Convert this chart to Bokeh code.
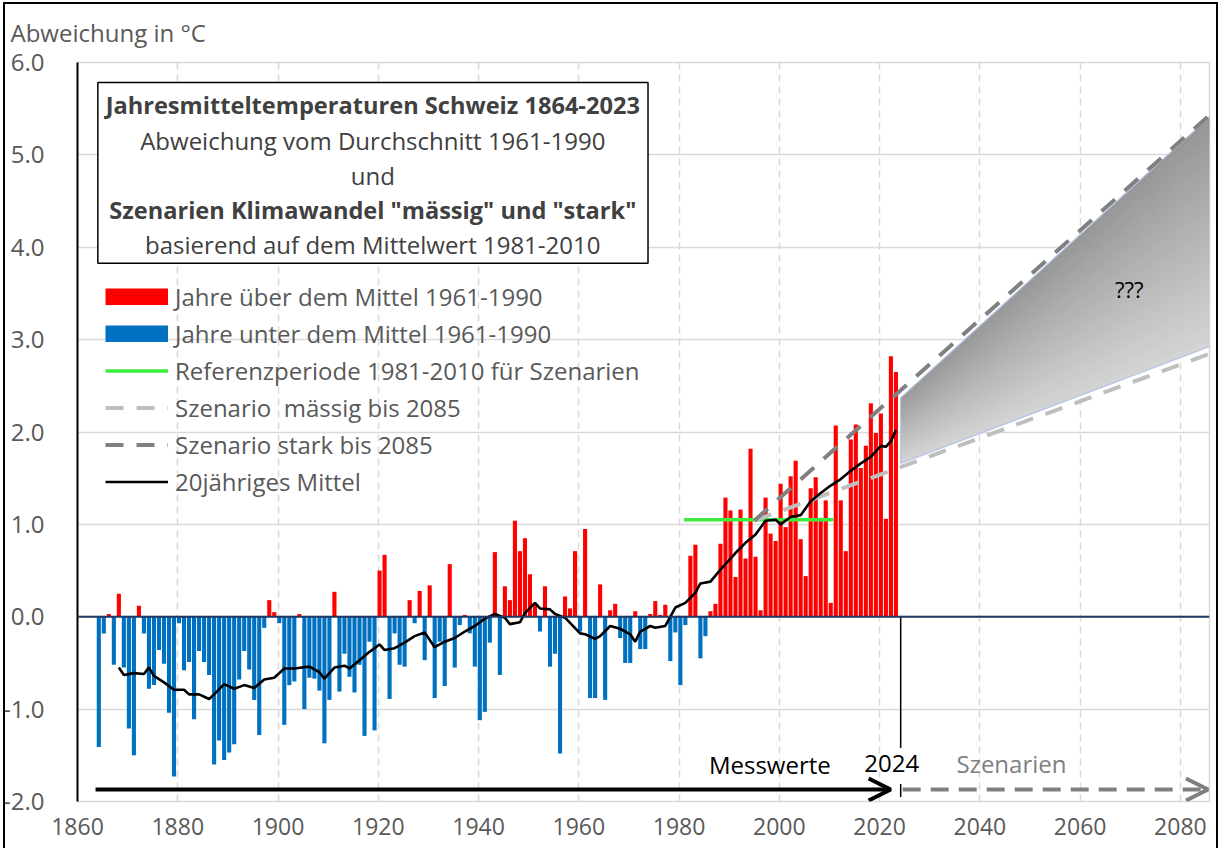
from bokeh.plotting import figure
from bokeh.models import (Range1d, FixedTicker, NumeralTickFormatter, Span, Label,
                          BoxAnnotation, Arrow, OpenHead, Legend, LegendItem, ColumnDataSource,
                          InlineStyleSheet)
from bokeh.embed import file_html
from bokeh.resources import INLINE

FONT = "Open Sans"
TXT = "#595959"
NAN = float("nan")

# ---------------- data ----------------
years = list(range(1864, 2024))
anomaly = [
    -1.41, -0.18, 0.03, -0.52, 0.25, -0.55, -1.21, -1.50, 0.12, -0.18,
    -0.78, -0.74, -0.36, -0.51, -1.04, -1.73, -0.07, -0.58, -0.49, -1.11,
    -0.37, -0.49, -0.63, -1.60, -1.34, -1.55, -1.47, -1.38, -0.68, -0.37,
    -0.57, -0.90, -1.28, -0.12, 0.18, 0.05, -0.07, -1.17, -0.74, -0.70,
    0.03, -1.00, -0.66, -0.67, -0.80, -1.37, -0.90, 0.27, -0.81, -0.40,
    -0.65, -0.82, -0.52, -1.29, -0.27, -1.23, 0.50, 0.67, -0.89, -0.18,
    -0.52, -0.54, 0.18, -0.07, 0.28, -0.47, 0.34, -0.88, -0.27, -0.75,
    0.57, -0.55, -0.09, 0.02, -0.18, -0.54, -1.12, -1.03, -0.28, 0.70,
    -0.63, 0.33, 0.18, 1.04, 0.71, 0.85, 0.46, 0.15, -0.16, 0.33,
    -0.54, -0.40, -1.48, 0.22, 0.09, 0.71, -0.16, 0.95, -0.88, -0.88,
    0.35, -0.90, 0.07, 0.14, -0.23, -0.50, -0.50, 0.06, -0.35, -0.35,
    0.03, 0.17, 0.02, 0.13, -0.48, -0.17, -0.74, -0.09, 0.66, 0.78,
    -0.45, -0.21, 0.06, 0.14, 0.79, 1.29, 1.15, 0.43, 1.16, 0.63,
    1.82, 0.65, 0.07, 1.29, 0.90, 0.82, 1.44, 0.97, 1.52, 1.69,
    0.84, 0.44, 1.39, 1.51, 1.07, 1.26, 0.15, 2.07, 1.26, 0.71,
    1.92, 2.08, 1.61, 1.85, 2.31, 1.99, 2.20, 1.06, 2.82, 2.65,
]

mean_years = [1868, 1869, 1871, 1873, 1874, 1875, 1877, 1879, 1881, 1882, 1884, 1886,
              1887, 1889, 1891, 1893, 1895, 1897, 1899, 1901, 1903, 1906, 1908, 1909,
              1911, 1913, 1914, 1916, 1918, 1920, 1921, 1923, 1925, 1927, 1929, 1931,
              1933, 1935, 1937, 1939, 1941, 1943, 1945, 1946, 1948, 1949, 1951, 1952,
              1954, 1955, 1957, 1960, 1961, 1963, 1964, 1966, 1968, 1970, 1971, 1972,
              1974, 1975, 1977, 1979, 1981, 1983, 1984, 1986, 1988, 1991, 1993, 1995,
              1997, 1999, 2000, 2002, 2004, 2006, 2008, 2010, 2012, 2014, 2016, 2018,
              2020, 2021, 2022, 2023]
mean_values = [-0.55, -0.63, -0.61, -0.62, -0.55, -0.64, -0.71, -0.79, -0.79, -0.84, -0.84, -0.89,
               -0.84, -0.73, -0.78, -0.74, -0.77, -0.68, -0.66, -0.56, -0.56, -0.54, -0.60, -0.67,
               -0.55, -0.53, -0.56, -0.47, -0.38, -0.30, -0.36, -0.34, -0.28, -0.21, -0.17, -0.33,
               -0.27, -0.23, -0.16, -0.10, -0.02, 0.03, -0.01, -0.08, -0.06, 0.04, 0.15, 0.09,
               0.08, 0.03, -0.01, -0.18, -0.19, -0.24, -0.21, -0.10, -0.13, -0.19, -0.27, -0.16,
               -0.10, -0.12, -0.10, 0.10, 0.15, 0.26, 0.36, 0.38, 0.51, 0.69, 0.80, 0.89,
               1.04, 1.05, 1.00, 1.08, 1.10, 1.25, 1.34, 1.42, 1.49, 1.58, 1.66, 1.73,
               1.85, 1.84, 1.90, 2.02]

ref_period = [1981, 2010]
ref_level = 1.05

scen_years = [1995, 2086]
maessig_values = [1.04, 2.85]
stark_values = [1.04, 5.44]

band_years = [2024.2, 2086]
band_top = [2.37, 5.42]
band_bottom = [1.66, 2.93]

x_ticks = list(range(1860, 2081, 20))
y_ticks = [-2, -1, 0, 1, 2, 3, 4, 5, 6]

title_lines = ["Jahresmitteltemperaturen Schweiz 1864-2023",
               "Abweichung vom Durchschnitt 1961-1990",
               "und",
               "Szenarien Klimawandel \"mässig\" und \"stark\"",
               "basierend auf dem Mittelwert 1981-2010"]
title_bold = [True, False, False, True, False]

legend_labels = ["Jahre über dem Mittel 1961-1990",
                 "Jahre unter dem Mittel 1961-1990",
                 "Referenzperiode 1981-2010 für Szenarien",
                 "Szenario  mässig bis 2085",
                 "Szenario stark bis 2085",
                 "20jähriges Mittel"]

# ---------------- figure ----------------
p = figure(width=1218, height=845, x_range=Range1d(1860, 2085.8), y_range=Range1d(-2, 6),
           output_backend="svg", toolbar_location=None,
           min_border_left=76, min_border_right=9, min_border_top=61, min_border_bottom=44)
p.background_fill_color = "white"
p.border_fill_color = "white"
p.outline_line_color = "#d9d9d9"
p.outline_line_width = 1.5
p.stylesheets = [InlineStyleSheet(css=(
    ":host { position: relative; }"
    ":host::after { content: ''; position: absolute; left: 3px; top: 2px; right: 0px; bottom: -30px;"
    " border: 2px solid black; pointer-events: none; z-index: 100; }"))]

p.title.text = "Abweichung in °C"
p.title.align = "left"
p.title.offset = -67
p.title.text_font = FONT
p.title.text_font_size = "24px"
p.title.text_font_style = "normal"
p.title.text_color = TXT
p.title.standoff = 27

p.xgrid.ticker = FixedTicker(ticks=x_ticks)
p.xgrid.grid_line_color = "#d9d9d9"
p.xgrid.grid_line_width = 1.5
p.xgrid.grid_line_dash = "7 5"
p.ygrid.ticker = FixedTicker(ticks=y_ticks)
p.ygrid.grid_line_color = "#d9d9d9"
p.ygrid.grid_line_width = 1.5

xa = p.xaxis[0]
xa.ticker = FixedTicker(ticks=x_ticks)
xa.axis_line_color = None
xa.major_tick_line_color = None
xa.minor_tick_line_color = None
xa.major_label_text_font = FONT
xa.major_label_text_font_size = "23px"
xa.major_label_text_color = TXT
xa.major_label_standoff = 10

ya = p.yaxis[0]
ya.ticker = FixedTicker(ticks=y_ticks)
ya.formatter = NumeralTickFormatter(format="0.0")
ya.axis_line_color = "black"
ya.axis_line_width = 2
ya.major_tick_line_color = None
ya.minor_tick_line_color = None
ya.major_label_text_font = FONT
ya.major_label_text_font_size = "24px"
ya.major_label_text_color = TXT
ya.major_label_standoff = 27

# bars
bar_x = [y + 0.25 for y in years]
pos_src = ColumnDataSource(dict(x=[x for x, v in zip(bar_x, anomaly) if v >= 0],
                                top=[v for v in anomaly if v >= 0]))
neg_src = ColumnDataSource(dict(x=[x for x, v in zip(bar_x, anomaly) if v < 0],
                                top=[v for v in anomaly if v < 0]))
r_red = p.vbar(x="x", top="top", bottom=0, width=0.82, source=pos_src,
               fill_color="#FF0000", line_color=None)
r_blue = p.vbar(x="x", top="top", bottom=0, width=0.82, source=neg_src,
                fill_color="#0070C0", line_color=None)
# legend swatches for the bar series (full-size blocks like the original legend)
sw_red = p.line(x=[NAN, NAN], y=[NAN, NAN], line_color="#FF0000", line_width=17)
sw_blue = p.line(x=[NAN, NAN], y=[NAN, NAN], line_color="#0070C0", line_width=17)

# gradient scenario band
n_bands = 36
dark = (150, 150, 150)
light = (212, 212, 212)
bxs, bys, bcols = [], [], []
for i in range(n_bands):
    t0, t1 = i / n_bands, (i + 1) / n_bands
    e = lambda t, j: band_top[j] + (band_bottom[j] - band_top[j]) * t
    bxs.append([band_years[0], band_years[1], band_years[1], band_years[0]])
    bys.append([e(t0, 0), e(t0, 1), e(t1, 1), e(t1, 0)])
    tm = (t0 + t1) / 2
    c = tuple(int(round(dark[k] + (light[k] - dark[k]) * tm)) for k in range(3))
    bcols.append("#%02x%02x%02x" % c)
p.patches(bxs, bys, fill_color=bcols, line_color=bcols, line_width=0.8)
p.patch([band_years[0], band_years[1], band_years[1], band_years[0]],
        [band_top[0], band_top[1], band_bottom[1], band_bottom[0]],
        fill_color=None, line_color="#b4c7e7", line_width=1.2)

# reference period line
r_green = p.line([ref_period[0], ref_period[1] + 0.75], [ref_level, ref_level],
                 line_color="#3CEB3C", line_width=3.5)
# scenarios
r_maessig = p.line(scen_years, maessig_values, line_color="#BFBFBF", line_width=4, line_dash="18 13")
r_stark = p.line(scen_years, stark_values, line_color="#808080", line_width=4, line_dash="18 13")
# 20-year mean
r_mean = p.line([y + 0.25 for y in mean_years], mean_values, line_color="black", line_width=2.6)

# zero line
p.add_layout(Span(location=0, dimension="width", line_color="#203864", line_width=2))

# 2024 marker
m_x = years[-1] + 1.2
p.segment(x0=[m_x, m_x], y0=[0, -1.81], x1=[m_x, m_x], y1=[-1.42, -1.95],
          line_color="black", line_width=1.5)

# arrows
p.add_layout(Arrow(end=OpenHead(size=22, line_width=4, line_color="black"),
                   x_start=years[0] - 0.4, y_start=-1.87, x_end=years[-1] - 0.8, y_end=-1.87,
                   line_width=4, line_color="black"))
p.add_layout(Arrow(end=OpenHead(size=22, line_width=4, line_color="#7F7F7F"),
                   x_start=years[-1] + 1.6, y_start=-1.87, x_end=2085.5, y_end=-1.87,
                   line_width=4, line_color="#7F7F7F", line_dash="18 10"))

# texts near the arrows
p.add_layout(Label(x=1998.1, y=-1.60, text="Messwerte", text_align="center", text_baseline="middle",
                   text_font=FONT, text_font_size="24px", text_color="black"))
p.add_layout(Label(x=2022.4, y=-1.59, text="2024", text_align="center", text_baseline="middle",
                   text_font=FONT, text_font_size="24px", text_color="black",
                   background_fill_color="white"))
p.add_layout(Label(x=2046.3, y=-1.59, text="Szenarien", text_align="center", text_baseline="middle",
                   text_font=FONT, text_font_size="24px", text_color="#7F7F7F"))
p.add_layout(Label(x=2069.8, y=3.55, text="???", text_align="center", text_baseline="middle",
                   text_font=FONT, text_font_size="22px", text_color="black"))

# title box
p.add_layout(BoxAnnotation(left=1864.06, right=1973.8, top=5.784, bottom=3.827,
                           fill_color="white", fill_alpha=1.0, line_color="black",
                           line_alpha=1.0, line_width=1.5))
title_y = [5.535, 5.157, 4.778, 4.40, 4.032]
title_size = ["23.6px", "24px", "24px", "23.6px", "24px"]
for txt, yv, bold, fs in zip(title_lines, title_y, title_bold, title_size):
    p.add_layout(Label(x=1918.9, y=yv, text=txt, text_align="center", text_baseline="middle",
                       text_font=FONT, text_font_size=fs, text_color="#404040",
                       text_font_style="bold" if bold else "normal"))

# legend
legend = Legend(items=[LegendItem(label=legend_labels[0], renderers=[r_red, sw_red]),
                       LegendItem(label=legend_labels[1], renderers=[r_blue, sw_blue]),
                       LegendItem(label=legend_labels[2], renderers=[r_green]),
                       LegendItem(label=legend_labels[3], renderers=[r_maessig]),
                       LegendItem(label=legend_labels[4], renderers=[r_stark]),
                       LegendItem(label=legend_labels[5], renderers=[r_mean])],
                location=(28, 303))
legend.glyph_width = 63
legend.glyph_height = 17
legend.label_height = 17
legend.label_standoff = 7
legend.spacing = 4
legend.padding = 0
legend.margin = 0
legend.border_line_color = None
legend.background_fill_alpha = 0
legend.label_text_font = FONT
legend.label_text_font_size = "24px"
legend.label_text_color = TXT
p.add_layout(legend)

open("out.html", "w").write(file_html(p, INLINE))
